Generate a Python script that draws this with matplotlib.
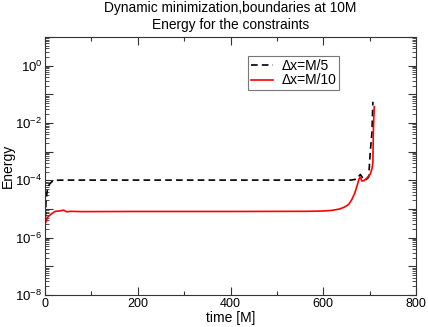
import numpy as np
import matplotlib.pyplot as plt
from matplotlib.ticker import LogLocator, FixedLocator, NullFormatter, FuncFormatter

plt.rcParams['font.family'] = ['Liberation Sans', 'DejaVu Sans']
plt.rcParams['mathtext.fontset'] = 'custom'
plt.rcParams['mathtext.rm'] = 'Liberation Sans'
plt.rcParams['mathtext.it'] = 'Liberation Sans'

# dx = M/5
t_coarse = [0, 1, 2, 4, 6, 10, 15, 20, 40, 100, 300, 500, 660, 672, 680, 686, 690, 695, 698, 701, 703, 705, 707]
e_coarse = [2e-6, 5e-6, 1.6e-5, 3.5e-5, 5.5e-5, 7.5e-5, 9.0e-5, 1.0e-4, 1.02e-4, 1.02e-4, 1.02e-4, 1.02e-4,
            1.02e-4, 1.1e-4, 1.6e-4, 1.15e-4, 1.0e-4, 1.15e-4, 1.3e-4, 8e-4, 2e-3, 4.5e-3, 5.5e-2]

# dx = M/10
t_fine = [0, 2, 5, 10, 15, 22, 30, 40, 47, 55, 80, 200, 400, 560, 600, 620, 635, 645, 655, 662,
          668, 673, 677, 680, 683, 688, 694, 701, 705, 707, 708, 709, 710]
e_fine = [5e-6, 3.5e-6, 5e-6, 6e-6, 7e-6, 8.3e-6, 8.5e-6, 9.1e-6, 8.0e-6, 8.3e-6, 8.1e-6, 8.2e-6,
          8.2e-6, 8.3e-6, 8.5e-6, 9.0e-6, 1.0e-5, 1.15e-5, 1.45e-5, 2.2e-5, 3.6e-5, 6.5e-5, 1.1e-4,
          1.3e-4, 9.5e-5, 9.8e-5, 1.2e-4, 1.6e-4, 2.5e-4, 4e-4, 4.5e-3, 1.5e-2, 3.7e-2]

fig = plt.figure(figsize=(4.28, 3.27), dpi=100)
ax = fig.add_axes([45 / 428, 32 / 327, 371 / 428, 258 / 327])

ax.plot(t_coarse, e_coarse, color='black', ls=(0, (4, 2.5)), lw=1.2, label='\u0394x=M/5')
ax.plot(t_fine, e_fine, color='red', lw=1.2, label='\u0394x=M/10')

ax.set_yscale('log')
ax.set_xlim(0, 800)
ax.set_ylim(1e-8, 1e1)

ax.set_xticks([0, 200, 400, 600, 800])
ax.set_xticks([100, 300, 500, 700], minor=True)
ax.yaxis.set_major_locator(FixedLocator([10.0 ** k for k in range(-8, 2)]))
ax.yaxis.set_minor_locator(LogLocator(base=10, subs=np.arange(2, 10), numticks=20))
ax.yaxis.set_minor_formatter(NullFormatter())


def fmt(v, pos):
    k = int(round(np.log10(v)))
    if k % 2:
        return ''
    return r'$10^{%d}$' % k


ax.yaxis.set_major_formatter(FuncFormatter(fmt))

ax.tick_params(which='both', direction='in', top=True, right=True, labelsize=9, colors='#333333',
               labelcolor='black', width=0.8, pad=2)
ax.tick_params(which='major', length=6)
ax.tick_params(which='minor', length=3)
ax.tick_params(axis='y', which='minor', length=3, width=0.6)
ax.tick_params(axis='y', which='major', labelsize=9.5)
for s in ax.spines.values():
    s.set_color('#333333')

ax.set_xlabel('time [M]', fontsize=10, labelpad=1)
ax.set_ylabel('Energy', fontsize=10, labelpad=0)
ax.set_title('Dynamic minimization,boundaries at 10M\nEnergy for the constraints', fontsize=9.9,
             linespacing=1.2, pad=6)

leg = ax.legend(loc='upper left', bbox_to_anchor=(203 / 371, 1 - 19 / 258), fontsize=10, frameon=True,
                fancybox=False, handlelength=1.6, handletextpad=0.6, borderpad=0.2,
                labelspacing=0.05, borderaxespad=0)
leg.get_frame().set_edgecolor('#555555')
leg.get_frame().set_linewidth(0.8)

fig.savefig('out.png', dpi=100)
